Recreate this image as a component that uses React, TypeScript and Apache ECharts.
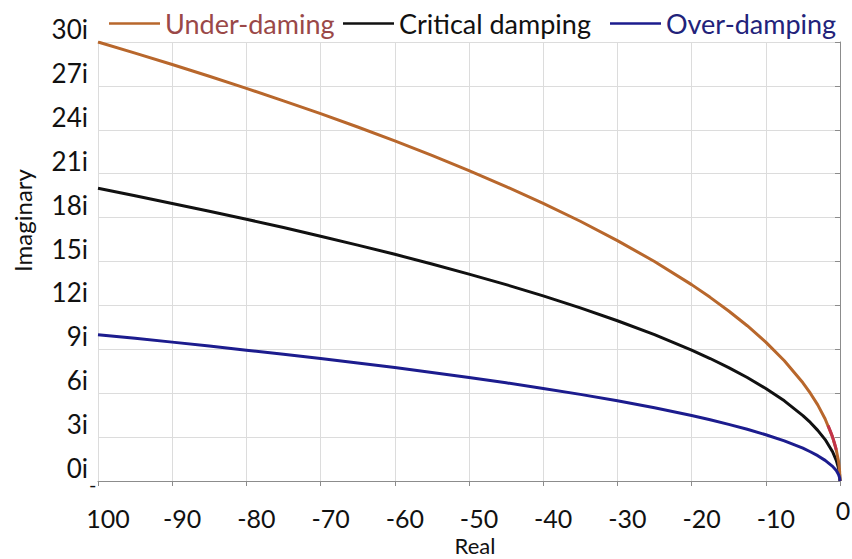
import React, { useEffect, useRef } from "react";
import * as echarts from "echarts";

const realValues = [-100, -95, -90, -85, -80, -75, -70, -65, -60, -55, -50, -45, -40, -35, -30, -25, -20, -17.5, -15, -12.5, -10, -7.5, -5, -4, -3, -2, -1, -0.5, -0.2, -0.05, 0];
const underDamping = [30, 29.24, 28.46, 27.66, 26.83, 25.98, 25.1, 24.19, 23.24, 22.25, 21.21, 20.12, 18.97, 17.75, 16.43, 15.0, 13.42, 12.55, 11.62, 10.61, 9.49, 8.22, 6.71, 6.0, 5.2, 4.24, 3.0, 2.12, 1.34, 0.67, 0];
const criticalDamping = [20, 19.49, 18.97, 18.44, 17.89, 17.32, 16.73, 16.12, 15.49, 14.83, 14.14, 13.42, 12.65, 11.83, 10.95, 10.0, 8.94, 8.37, 7.75, 7.07, 6.32, 5.48, 4.47, 4.0, 3.46, 2.83, 2.0, 1.41, 0.89, 0.45, 0];
const overDamping = [10, 9.75, 9.49, 9.22, 8.94, 8.66, 8.37, 8.06, 7.75, 7.42, 7.07, 6.71, 6.32, 5.92, 5.48, 5.0, 4.47, 4.18, 3.87, 3.54, 3.16, 2.74, 2.24, 2.0, 1.73, 1.41, 1.0, 0.71, 0.45, 0.22, 0];
const redSegmentX = [-1.6, -1.3, -1.0, -0.75, -0.5];
const redSegmentY = [3.79, 3.42, 3.0, 2.6, 2.12];

const seriesNames = ["Under-daming", "Critical damping", "Over-damping"];
const lineColors = ["#b8672c", "#111111", "#1c1c8e"];
const legendTextColors = ["#9a4848", "#111111", "#22227a"];

const FONT = "Lato, 'Open Sans', sans-serif";

export default function App() {
  const ref = useRef<HTMLDivElement>(null);
  useEffect(() => {
    if (!ref.current) return;
    const chart = echarts.init(ref.current, null, { renderer: "svg" });
    const pair = (ys: number[], xs: number[]) => xs.map((x, i) => [x, ys[i]]);
    const legendLefts = [104, 338, 605];
    const lineSeries = (i: number, ys: number[]) => ({
      name: seriesNames[i],
      type: "line",
      data: pair(ys, realValues),
      showSymbol: false,
      smooth: false,
      lineStyle: { color: lineColors[i], width: 3, join: "round" },
      itemStyle: { color: lineColors[i] },
      z: [3, 2, 4][i],
    });
    chart.setOption({
      animation: false,
      backgroundColor: "#ffffff",
      textStyle: { fontFamily: FONT },
      legend: seriesNames.map((n, i) => ({
        left: legendLefts[i],
        top: 5,
        icon: "rect",
        itemWidth: 51,
        itemHeight: 2.5,
        itemGap: 0,
        data: [{ name: n, textStyle: { color: legendTextColors[i] } }],
        textStyle: { fontFamily: FONT, fontSize: 27, color: legendTextColors[i] },
      })),
      grid: { left: 98, right: 12, top: 42, bottom: 78, outerBoundsMode: "none", containLabel: false },
      xAxis: {
        type: "value",
        min: -100,
        max: 0,
        interval: 10,
        name: "Real",
        nameLocation: "middle",
        nameGap: 50,
        nameTextStyle: { fontFamily: FONT, fontSize: 22, color: "#111", padding: [0, 0, 0, 12] },
        axisLine: { show: true, onZero: false, lineStyle: { color: "#8c8c8c", width: 1 } },
        axisTick: { show: true, length: 5, lineStyle: { color: "#8c8c8c" } },
        splitLine: { show: true, lineStyle: { color: "#dcdcdc", width: 1 } },
        axisLabel: {
          fontFamily: FONT,
          fontSize: 25,
          color: "#111",
          margin: 16,
          showMaxLabel: true,
          showMinLabel: true,
          formatter: (v: number) => (v === 0 ? "{z|0}" : `{a|${v === -100 ? "100" : v}}`),
          rich: {
            a: { fontFamily: FONT, fontSize: 25, color: "#111", padding: [8, 0, 0, 20] },
            z: { fontFamily: FONT, fontSize: 25, color: "#111", padding: [0, 0, 8, 6] },
          },
        },
      },
      yAxis: {
        type: "value",
        min: 0,
        max: 30,
        interval: 3,
        name: "Imaginary",
        nameLocation: "middle",
        nameGap: 64,
        nameTextStyle: { fontFamily: FONT, fontSize: 24, color: "#111", padding: [0, 0, 0, 82] },
        axisLine: { show: true, lineStyle: { color: "#8c8c8c", width: 1 } },
        axisTick: { show: true, length: 5, lineStyle: { color: "#8c8c8c" } },
        splitLine: { show: true, lineStyle: { color: "#dcdcdc", width: 1 } },
        axisLabel: {
          fontFamily: FONT,
          fontSize: 26,
          color: "#111",
          margin: 10,
          verticalAlign: "bottom",
          formatter: (v: number) => `${v}i`,
        },
      },
      graphic: [
        {
          type: "text",
          x: 89,
          y: 484,
          style: { text: "-", fontFamily: FONT, fontSize: 20, fill: "#111", verticalAlign: "middle" },
        },
      ],
      series: [
        lineSeries(0, underDamping),
        lineSeries(1, criticalDamping),
        lineSeries(2, overDamping),
        {
          name: "segment",
          type: "line",
          data: pair(redSegmentY, redSegmentX),
          showSymbol: false,
          lineStyle: { color: "#c2334a", width: 3 },
          itemStyle: { color: "#c2334a" },
          z: 5,
        },
      ],
    });
    return () => chart.dispose();
  }, []);
  return <div ref={ref} style={{ width: 852, height: 559, position: "absolute", left: 0, top: 0 }} />;
}
